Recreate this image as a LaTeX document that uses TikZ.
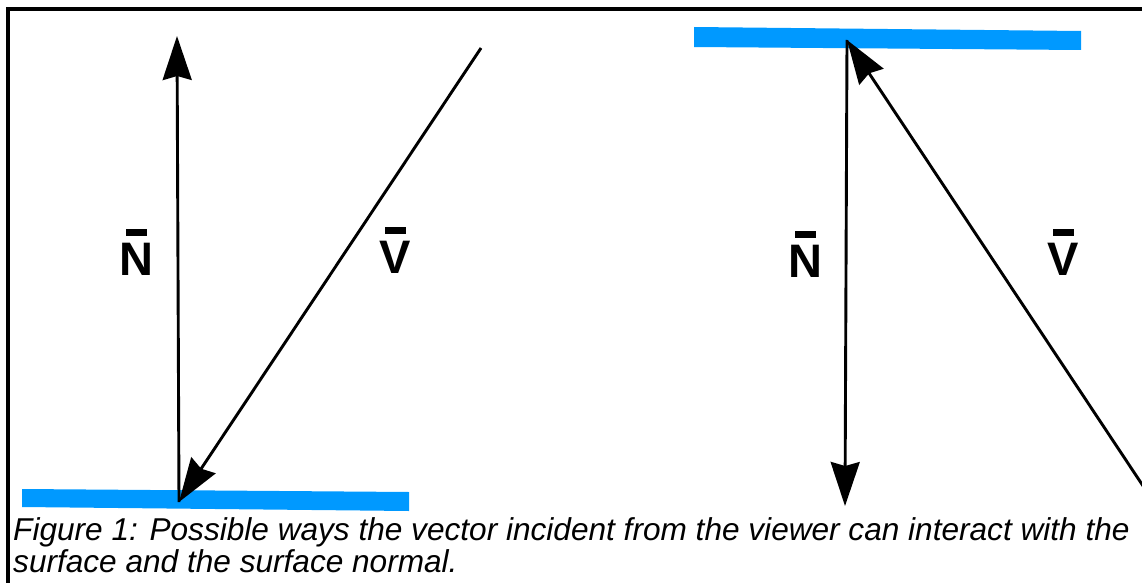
\documentclass[tikz,border=0pt]{standalone}
\usepackage{fontspec}
\setmainfont{Liberation Sans}
\usetikzlibrary{arrows.meta}
\definecolor{surf}{RGB}{0,153,255}
\newcommand\barredlab[1]{\setbox0\hbox{#1}\rlap{\hbox to\wd0{\hss\raisebox{39pt}{\rule{21pt}{7pt}}\hss}}\box0}
\tikzset{
  vec/.style={line width=2.9pt,-{Stealth[length=44pt,width=29pt,inset=4pt]}},
  lab/.style={inner sep=0pt,anchor=base,font=\fontsize{47}{50}\selectfont\bfseries},
  captiontext/.style={inner sep=0pt,anchor=base west,font=\fontsize{31.6}{34}\selectfont\itshape},
  surface/.style={fill=surf,draw=none}
}
\begin{document}
\begin{tikzpicture}[x=1pt,y=-1pt]
\useasboundingbox (0,0) rectangle (1142,583);
\clip (0,0) rectangle (1142,583);
\fill[white] (0,0) rectangle (1142,583);
\draw[line width=3.6pt] (8,9) rectangle (1160,600);
% surfaces
\fill[surface] (22,489) -- (409,492) -- (409,511) -- (22,507) -- cycle;
\fill[surface] (694,27) -- (1081,31) -- (1081,50) -- (694,47) -- cycle;
% left
\coordinate (lp) at (179,502);
\coordinate (ln) at (177,36);
\coordinate (lv) at (481,48);
\draw[vec] (lp) -- (ln);
\draw[vec] (lv) -- (lp);
\node[lab] (lN) at (136,275) {\barredlab{N}};
\node[lab] (lV) at (395,273) {\barredlab{V}};
% right
\coordinate (rp) at (847,40);
\coordinate (rn) at (845,506);
\coordinate (rv) at (1165,519);
\draw[vec] (rp) -- (rn);
\draw[vec] (rv) -- (rp);
\node[lab] (rN) at (805,277) {\barredlab{N}};
\node[lab] (rV) at (1063,275) {\barredlab{V}};
% caption
\node[captiontext] (c1) at (13,540) {Figure 1: Possible ways the vector incident from the viewer can interact with the};
\node[captiontext] (c2) at (13,572) {surface and the surface normal.};
\end{tikzpicture}
\end{document}
